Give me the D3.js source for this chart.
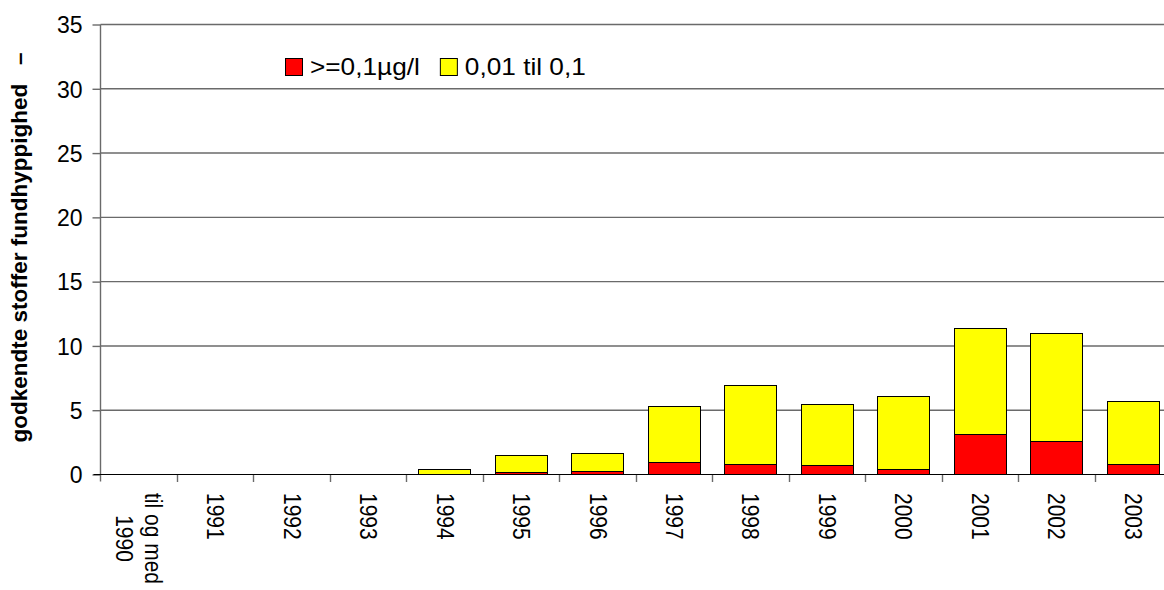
<!DOCTYPE html>
<html>
<head>
<meta charset="utf-8">
<script src="https://cdn.jsdelivr.net/npm/d3@7"></script>
<style>
    body { margin: 0; background: #fff; }
    svg { display: block; font-family: "Liberation Sans", Arial, sans-serif; }
</style>
</head>
<body>
<div id="chart"></div>
<script>
// data
const years = ["til og med|1990", "1991", "1992", "1993", "1994", "1995", "1996",
    "1997", "1998", "1999", "2000", "2001", "2002", "2003"];
const above01 = [0, 0, 0, 0, 0, 0.13, 0.26, 0.91, 0.8, 0.7, 0.39, 3.09, 2.57, 0.8];
const between = [0, 0, 0, 0, 0.37, 1.35, 1.35, 4.35, 6.1, 4.72, 5.7, 8.29, 8.4, 4.88];
const yTicks = [0, 5, 10, 15, 20, 25, 30, 35];
const seriesNames = [">=0,1µg/l", "0,01 til 0,1"];
const seriesColors = ["#ff0000", "#ffff00"];

const width = 1164, height = 590;
const margin = {top: 24, left: 100.5, bottom: 116};
const step = 76.48;

const svg = d3.select("#chart").append("svg")
    .attr("width", width)
    .attr("height", height);

const rows = years.map((y, i) => ({year: y, a: above01[i], b: between[i]}));

const x = d3.scaleBand()
    .domain(years)
    .range([margin.left, margin.left + step * years.length])
    .paddingInner(0.314)
    .paddingOuter(0.157);

const y = d3.scaleLinear()
    .domain([0, 35])
    .range([height - margin.bottom, margin.top]);

const gridColor = "#6a6a6a";

// gridlines
svg.append("g")
    .selectAll("line")
    .data(yTicks.slice(1))
    .join("line")
    .attr("x1", margin.left)
    .attr("x2", width)
    .attr("y1", d => y(d) + 0.5)
    .attr("y2", d => y(d) + 0.5)
    .attr("stroke", gridColor)
    .attr("stroke-width", 1.4);

// y axis
const yAxis = svg.append("g")
    .attr("transform", `translate(${margin.left},0.5)`)
    .call(d3.axisLeft(y).tickValues(yTicks).tickSize(8).tickPadding(10));
yAxis.select(".domain").attr("stroke", gridColor).attr("stroke-width", 1.4)
    .attr("d", `M0,${margin.top}V${height - margin.bottom + 7}`);
yAxis.selectAll(".tick line").attr("stroke", gridColor).attr("stroke-width", 1.4);
yAxis.selectAll(".tick text")
    .attr("font-size", 23)
    .attr("fill", "#000")
    .attr("font-family", "Liberation Sans, Arial, sans-serif")
    .attr("dy", "0.36em");

// stacked bars
const stack = d3.stack().keys(["a", "b"]);
const layers = stack(rows);

svg.append("g")
    .selectAll("g")
    .data(layers)
    .join("g")
    .attr("fill", (d, i) => seriesColors[i])
    .selectAll("rect")
    .data(d => d.filter(s => s[1] - s[0] > 0))
    .join("rect")
    .attr("x", d => Math.round(x(d.data.year)) + 0.5)
    .attr("width", Math.round(x.bandwidth()))
    .attr("y", d => Math.round(y(d[1])) + 0.5)
    .attr("height", d => Math.round(y(d[0])) - Math.round(y(d[1])))
    .attr("stroke", "#000")
    .attr("stroke-width", 1);

// x axis baseline + ticks
const base = y(0);
svg.append("g")
    .selectAll("line")
    .data(years.slice(1))
    .join("line")
    .attr("x1", d => Math.round(x(d) - x.step() * x.paddingInner() / 2) + 0.5)
    .attr("x2", d => Math.round(x(d) - x.step() * x.paddingInner() / 2) + 0.5)
    .attr("y1", base)
    .attr("y2", base + 8)
    .attr("stroke", gridColor)
    .attr("stroke-width", 1.4);

svg.append("line")
    .attr("x1", margin.left - 7)
    .attr("x2", width)
    .attr("y1", base + 0.5)
    .attr("y2", base + 0.5)
    .attr("stroke", "#000")
    .attr("stroke-width", 1.2);

// x labels, rotated clockwise
const labelTop = 493;
const xl = svg.append("g")
    .attr("font-size", 21)
    .attr("fill", "#000");

years.forEach(function(label) {
    const cx = x(label) + x.bandwidth() / 2;
    const lines = label.split("|");
    const t = xl.append("text")
        .attr("transform", `translate(${cx},${labelTop}) scale(1.1,1) rotate(90)`);
    if (lines.length === 1) {
        t.attr("dy", "0.35em").text(label);
    } else {
        const lineGap = 27;
        const spans = lines.map((ln, k) => t.append("tspan")
            .attr("y", (k - (lines.length - 1) / 2) * lineGap)
            .attr("dy", "0.35em")
            .text(ln));
        const longest = d3.max(spans, s => s.node().getComputedTextLength());
        t.attr("text-anchor", "middle");
        spans.forEach(s => s.attr("x", longest / 2));
    }
});

// y axis title
svg.append("text")
    .attr("transform", `translate(27,${(442 + 53) / 2}) rotate(-90)`)
    .attr("text-anchor", "middle")
    .attr("font-size", 22.5)
    .attr("font-weight", "bold")
    .attr("xml:space", "preserve")
    .style("white-space", "pre")
    .text("godkendte stoffer fundhyppighed   –");

// legend
const legend = svg.append("g").attr("transform", "translate(285,58)");
let lx = 0;
seriesNames.forEach(function(name, i) {
    legend.append("rect")
        .attr("x", lx + 0.5)
        .attr("y", 0.5)
        .attr("width", 17)
        .attr("height", 17)
        .attr("fill", seriesColors[i])
        .attr("stroke", "#000");
    const t = legend.append("text")
        .attr("transform", `translate(${lx + 25},17) scale(1.14,1)`)
        .attr("font-size", 23)
        .text(name);
    lx += 25 + t.node().getComputedTextLength() * 1.14 + 20;
});
</script>
</body>
</html>
